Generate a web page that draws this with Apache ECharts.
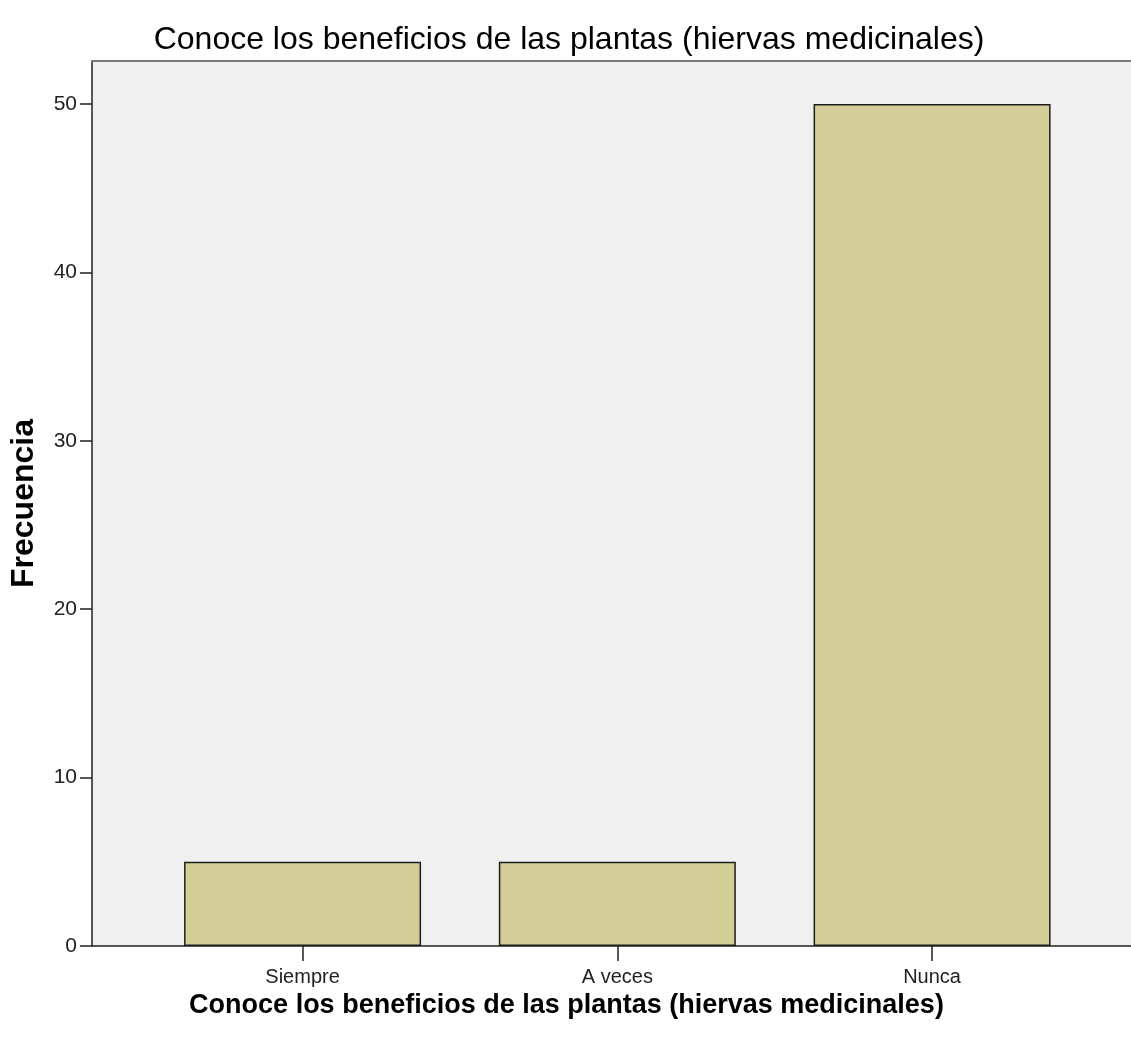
<!DOCTYPE html>
<html>
<head>
<meta charset="utf-8">
<script src="https://cdn.jsdelivr.net/npm/echarts@6/dist/echarts.min.js"></script>
<style>
html,body{margin:0;padding:0;background:#fff;}
#chart{width:1131px;height:1043px;}
</style>
</head>
<body>
<div id="chart"></div>
<script>
const chartTitle = 'Conoce los beneficios de las plantas (hiervas medicinales)';
const xAxisTitle = 'Conoce los beneficios de las plantas (hiervas medicinales)';
const yAxisTitle = 'Frecuencia';
const categories = ['Siempre', 'A veces', 'Nunca'];
const frequencies = [5, 5, 50];
const yTicks = [0, 10, 20, 30, 40, 50];

const font = '"Liberation Sans Narrow", "Arial Narrow", "Liberation Sans", Arial, sans-serif';
const catIndex = categories.map((c, i) => i);
const barData = categories.map((c, i) => [i, frequencies[i]]);

const chart = echarts.init(document.getElementById('chart'));
chart.setOption({
  backgroundColor: '#ffffff',
  animation: false,
  title: {
    text: chartTitle,
    left: 564,
    top: 19,
    textAlign: 'center',
    textStyle: { fontFamily: font, fontSize: 32, fontWeight: 'normal', color: '#000' }
  },
  grid: {
    left: 92, right: 0, top: 61, bottom: 97,
    outerBoundsMode: 'none',
    containLabel: false,
    show: true, backgroundColor: '#f0f0f0', borderWidth: 0
  },
  xAxis: [{
    type: 'value',
    min: -0.669,
    max: 2.632,
    name: xAxisTitle,
    nameLocation: 'middle',
    nameGap: 44,
    nameTextStyle: { fontFamily: font, fontSize: 27, fontWeight: 'bold', color: '#000', padding: [0, 90, 0, 0] },
    axisLine: { show: true, onZero: false, lineStyle: { color: '#222', width: 1.5 } },
    axisTick: { show: true, customValues: catIndex, length: 15, lineStyle: { color: '#222', width: 1.5 } },
    axisLabel: {
      customValues: catIndex,
      formatter: v => categories[Math.round(v)],
      margin: 21,
      fontFamily: font, fontSize: 20, color: '#222'
    },
    splitLine: { show: false }
  }, {
    type: 'value',
    position: 'top',
    min: 0, max: 1,
    axisLine: { show: true, onZero: false, lineStyle: { color: '#7a7a7a', width: 2 } },
    axisTick: { show: false },
    axisLabel: { show: false },
    splitLine: { show: false }
  }],
  yAxis: {
    type: 'value',
    min: 0,
    max: 52.55,
    interval: 10,
    name: yAxisTitle,
    nameLocation: 'middle',
    nameGap: 52,
    nameRotate: 90,
    nameTextStyle: { fontFamily: font, fontSize: 32, fontWeight: 'bold', color: '#000' },
    axisLine: { show: true, onZero: false, lineStyle: { color: '#222', width: 1.5 } },
    axisTick: { show: true, customValues: yTicks, length: 12, lineStyle: { color: '#222', width: 1.5 } },
    axisLabel: {
      customValues: yTicks,
      margin: 15,
      fontFamily: font, fontSize: 21, color: '#222'
    },
    splitLine: { show: false }
  },
  series: [{
    type: 'bar',
    xAxisIndex: 0,
    data: barData,
    barWidth: 237,
    itemStyle: { color: '#d3ce97', borderColor: '#1e1e1e', borderWidth: 1.5 }
  }]
});
</script>
</body>
</html>
